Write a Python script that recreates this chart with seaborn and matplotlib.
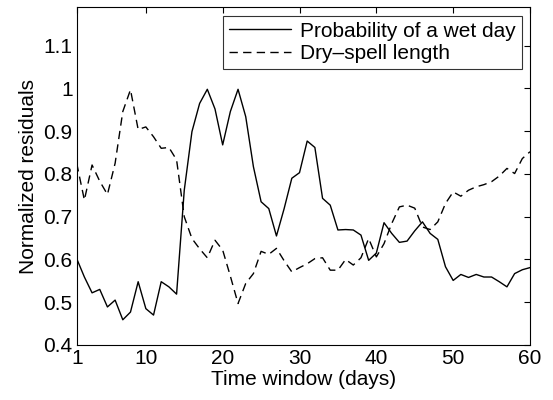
import matplotlib
matplotlib.use("Agg")
import matplotlib.pyplot as plt
import seaborn as sns
import pandas as pd
import numpy as np

days = list(range(1, 61))
wet_day = [0.602, 0.559, 0.522, 0.530, 0.489, 0.505, 0.459, 0.477, 0.548, 0.485,
           0.470, 0.548, 0.536, 0.519, 0.762, 0.899, 0.965, 0.998, 0.952, 0.868,
           0.946, 0.998, 0.934, 0.817, 0.735, 0.719, 0.655, 0.719, 0.790, 0.803,
           0.877, 0.862, 0.743, 0.727, 0.669, 0.670, 0.669, 0.657, 0.598, 0.615,
           0.686, 0.661, 0.640, 0.643, 0.667, 0.688, 0.661, 0.647, 0.583, 0.551,
           0.565, 0.558, 0.565, 0.559, 0.559, 0.548, 0.536, 0.567, 0.576, 0.581]
dry_spell = [0.825, 0.739, 0.821, 0.783, 0.752, 0.825, 0.946, 0.997, 0.904, 0.910,
             0.887, 0.860, 0.862, 0.833, 0.700, 0.649, 0.625, 0.604, 0.645, 0.622,
             0.561, 0.497, 0.544, 0.567, 0.619, 0.612, 0.626, 0.597, 0.571, 0.581,
             0.590, 0.602, 0.604, 0.575, 0.575, 0.600, 0.587, 0.604, 0.649, 0.606,
             0.637, 0.684, 0.723, 0.727, 0.720, 0.676, 0.670, 0.688, 0.731, 0.758,
             0.748, 0.762, 0.770, 0.775, 0.782, 0.795, 0.813, 0.801, 0.836, 0.852]
series_names = ["Probability of a wet day", "Dry\u2013spell length"]
x_ticks = [1, 10, 20, 30, 40, 50, 60]
y_ticks = [0.4, 0.5, 0.6, 0.7, 0.8, 0.9, 1.0, 1.1]
y_tick_labels = ["0.4", "0.5", "0.6", "0.7", "0.8", "0.9", "1", "1.1"]

sns.set_style("white")
plt.rcParams['font.family'] = ['Liberation Sans', 'DejaVu Sans']
plt.rcParams['text.color'] = 'black'
plt.rcParams['axes.labelcolor'] = 'black'
plt.rcParams['xtick.color'] = 'black'
plt.rcParams['ytick.color'] = 'black'

DASH = (6.0, 3.8)

fig = plt.figure(figsize=(5.53, 4.0), dpi=100)
ax = fig.add_axes([0.1387, 0.1375, 0.9584 - 0.1387, 0.982 - 0.1375])

sns.lineplot(x=days, y=wet_day, ax=ax, color="black", linewidth=1.0,
             label=series_names[0])
sns.lineplot(x=days, y=dry_spell, ax=ax, color="black", linewidth=1.0,
             label=series_names[1])
ax.lines[1].set_dashes(DASH)

ax.set_xlim(1, 60)
ax.set_ylim(0.4, 1.19)
ax.set_xticks(x_ticks)
ax.set_xticklabels([str(t) for t in x_ticks])
ax.set_yticks(y_ticks)
ax.set_yticklabels(y_tick_labels)
ax.tick_params(direction="in", length=4, width=0.8, top=True, right=True,
               labelsize=15, colors="black", labelcolor="black", pad=3)
for s in ax.spines.values():
    s.set_color("black")
    s.set_linewidth(0.8)
ax.set_xlabel("Time window (days)", fontsize=15, labelpad=1, color="black")
ax.set_ylabel("Normalized residuals", fontsize=15, labelpad=4, color="black")

leg = ax.legend(loc="upper right", fontsize=15, frameon=True, fancybox=False,
                edgecolor="black", handlelength=3.0, handletextpad=0.4,
                borderpad=0.3, labelspacing=0.15, borderaxespad=0.4)
leg.get_frame().set_linewidth(0.8)
for t in leg.get_texts():
    t.set_color("black")
leg.get_lines()[1].set_dashes(DASH)

fig.savefig("out.png", dpi=100)
